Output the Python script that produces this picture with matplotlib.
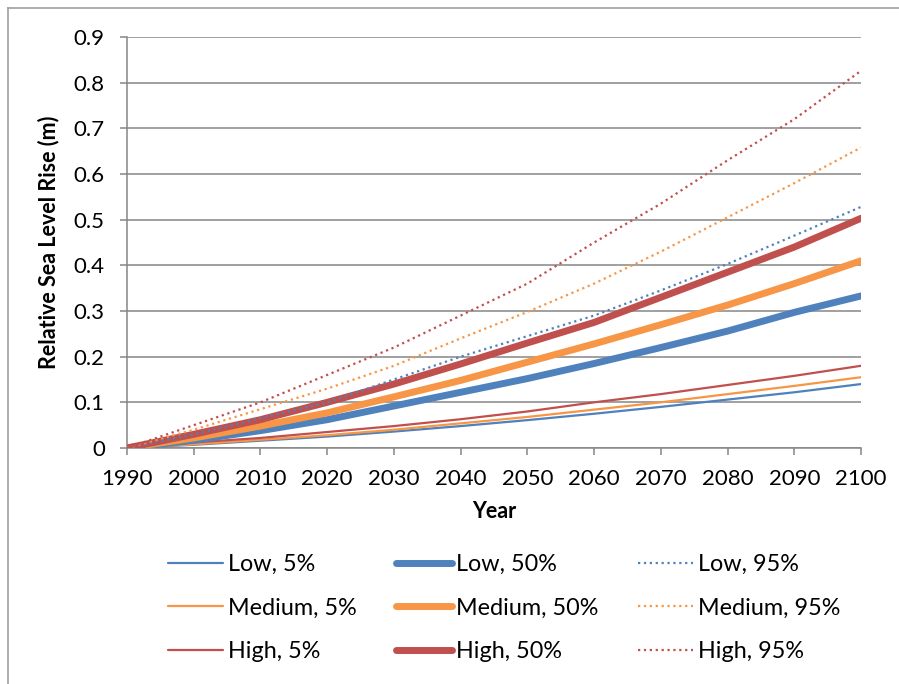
import numpy as np
import matplotlib
matplotlib.use('Agg')
import matplotlib.pyplot as plt
from matplotlib.lines import Line2D

plt.rcParams['font.family'] = ['Lato', 'DejaVu Sans']

# one value per decade
years = [1990, 2000, 2010, 2020, 2030, 2040, 2050, 2060, 2070, 2080, 2090, 2100]

low_5 = [0, 0.007, 0.016, 0.025, 0.036, 0.048, 0.061, 0.075, 0.090, 0.106, 0.122, 0.140]
low_50 = [0, 0.017, 0.038, 0.062, 0.092, 0.122, 0.152, 0.185, 0.220, 0.256, 0.297, 0.333]
low_95 = [0, 0.030, 0.065, 0.100, 0.150, 0.200, 0.245, 0.290, 0.345, 0.403, 0.465, 0.528]

med_5 = [0, 0.008, 0.018, 0.028, 0.040, 0.054, 0.068, 0.084, 0.100, 0.118, 0.136, 0.155]
med_50 = [0, 0.022, 0.048, 0.077, 0.112, 0.148, 0.188, 0.228, 0.270, 0.313, 0.360, 0.410]
med_95 = [0, 0.040, 0.085, 0.130, 0.180, 0.240, 0.298, 0.360, 0.430, 0.505, 0.580, 0.658]

high_5 = [0, 0.012, 0.022, 0.035, 0.048, 0.063, 0.080, 0.100, 0.118, 0.138, 0.158, 0.180]
high_50 = [0, 0.030, 0.062, 0.100, 0.140, 0.184, 0.230, 0.275, 0.330, 0.385, 0.440, 0.503]
high_95 = [0, 0.050, 0.100, 0.160, 0.220, 0.290, 0.360, 0.450, 0.535, 0.630, 0.720, 0.826]

y_ticks = [0, 0.1, 0.2, 0.3, 0.4, 0.5, 0.6, 0.7, 0.8, 0.9]
y_tick_labels = ['0', '0.1', '0.2', '0.3', '0.4', '0.5', '0.6', '0.7', '0.8', '0.9']

blue = '#4F81BD'
orange = '#F79646'
red = '#C0504D'
grid_col = '#868686'

fig = plt.figure(figsize=(8.99, 6.84), dpi=100)
ax = fig.add_axes([127/899, 1 - 448/684, (861-127)/899, (448-37)/684])

thin, thick, dot = 1.6, 5.0, 1.6

# order so legend (3 columns, filled column-wise) matches the reference
series = [
    (low_5, blue, thin, '-', 'Low, 5%'),
    (med_5, orange, thin, '-', 'Medium, 5%'),
    (high_5, red, thin, '-', 'High, 5%'),
    (low_50, blue, thick, '-', 'Low, 50%'),
    (med_50, orange, thick, '-', 'Medium, 50%'),
    (high_50, red, thick, '-', 'High, 50%'),
    (low_95, blue, dot, ':', 'Low, 95%'),
    (med_95, orange, dot, ':', 'Medium, 95%'),
    (high_95, red, dot, ':', 'High, 95%'),
]

for data, col, lw, ls, lab in series:
    ax.plot(years, data, color=col, linewidth=lw, linestyle=ls, label=lab,
            solid_capstyle='round', zorder=3)

ax.set_xlim(1990, 2100)
ax.set_ylim(0, 0.9)
ax.set_xticks(years)
ax.set_yticks(y_ticks)
ax.set_yticklabels(y_tick_labels)

ax.grid(axis='y', color=grid_col, linewidth=1.1, zorder=0)
ax.set_axisbelow(True)
for s in ['top', 'right']:
    ax.spines[s].set_visible(False)
for s in ['left', 'bottom']:
    ax.spines[s].set_color(grid_col)
    ax.spines[s].set_linewidth(1.1)

ax.tick_params(axis='both', which='major', labelsize=16, color=grid_col,
               width=1.1, length=5, direction='out')
ax.tick_params(axis='x', pad=10)
ax.tick_params(axis='y', pad=11)

ax.set_xlabel('Year', fontsize=15.5, fontweight='bold', labelpad=9)
ax.set_ylabel('Relative Sea Level Rise (m)', fontsize=15.5, fontweight='bold', labelpad=10)

leg = fig.legend(loc='upper left', bbox_to_anchor=(159/899, 1 - 545/684), ncol=3,
                 frameon=False, fontsize=16.8, handlelength=2.36, handletextpad=0.2,
                 columnspacing=1.7, labelspacing=0.95, borderaxespad=0)

# outer chart border (left and top only visible in crop)
fig.add_artist(Line2D([8/899, 8/899], [0, 1 - 8/684], color='#a0a0a0', linewidth=1.2,
                      transform=fig.transFigure))
fig.add_artist(Line2D([8/899, 1], [1 - 8/684, 1 - 8/684], color='#a0a0a0', linewidth=1.2,
                      transform=fig.transFigure))

plt.savefig('out.png', dpi=100)
